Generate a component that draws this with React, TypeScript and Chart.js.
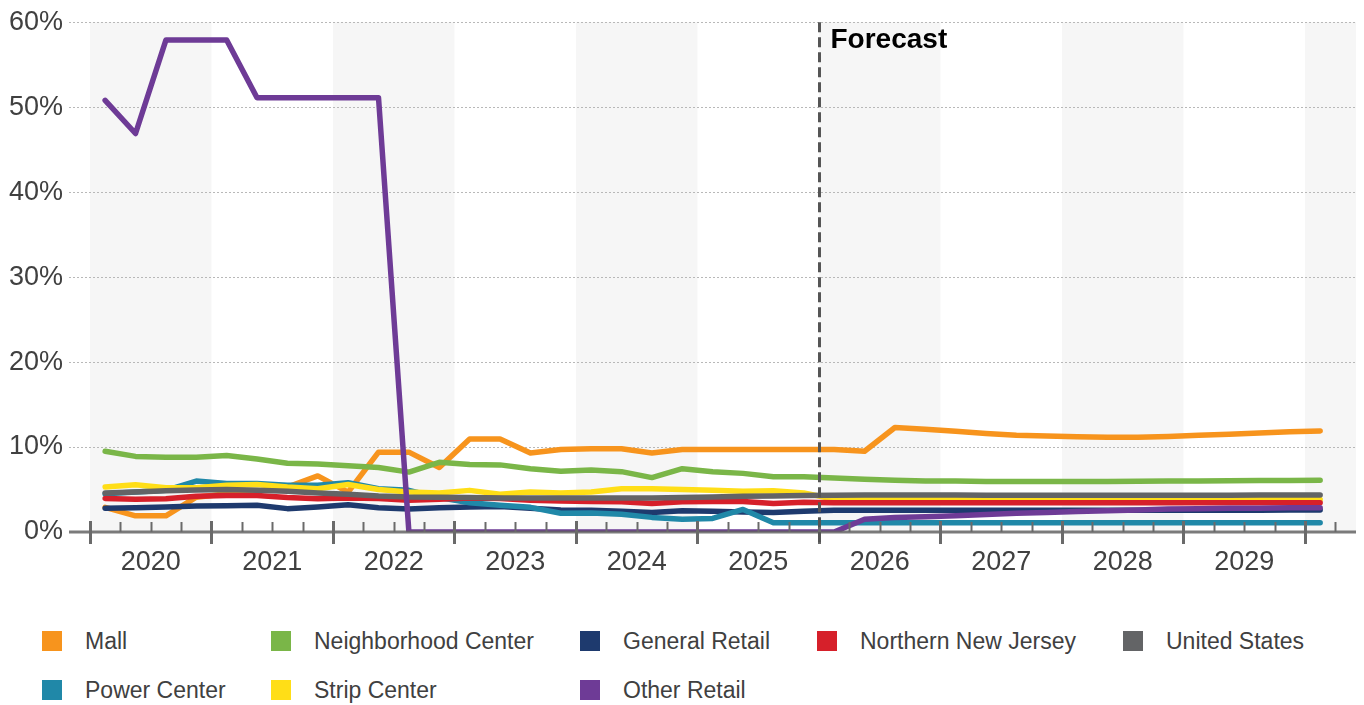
import React, { useEffect, useRef } from 'react';
import { Chart, registerables } from 'chart.js';

Chart.register(...registerables);

const FONT = "'Liberation Sans', Arial, Helvetica, sans-serif";
const TEXT_COLOR = '#404040';

// Years on the x axis (quarterly data, 2020 Q1 .. 2030 Q1)
const YEARS = ['2020', '2021', '2022', '2023', '2024', '2025', '2026', '2027', '2028', '2029'];
const Y_TICKS = [0, 10, 20, 30, 40, 50, 60];
const FORECAST_START_QUARTER = 24; // start of 2026
const SHADED_START_QUARTERS = [0, 8, 16, 24, 32, 40];

// Vacancy (%) per quarter, 41 points each
const MALL = [
  2.9, 1.9, 1.9, 4.1, 4.5, 4.8, 5.3, 6.6, 4.7, 9.4,
  9.4, 7.6, 10.95, 10.95, 9.3, 9.7, 9.8, 9.8, 9.3, 9.7,
  9.7, 9.7, 9.7, 9.7, 9.7, 9.5, 12.3, 12.1, 11.85, 11.6,
  11.4, 11.3, 11.2, 11.15, 11.15, 11.25, 11.4, 11.5, 11.65, 11.8,
  11.9,
];
const NEIGHBORHOOD = [
  9.5, 8.9, 8.8, 8.8, 9.0, 8.6, 8.1, 8.0, 7.8, 7.6,
  7.05, 8.2, 7.95, 7.9, 7.45, 7.15, 7.3, 7.1, 6.4, 7.45,
  7.1, 6.9, 6.5, 6.5, 6.35, 6.2, 6.1, 6.0, 6.0, 5.95,
  5.95, 5.95, 5.95, 5.95, 5.97, 6.0, 6.0, 6.02, 6.05, 6.05,
  6.08,
];
const GENERAL_RETAIL = [
  2.8, 2.85, 2.95, 3.05, 3.1, 3.15, 2.75, 2.95, 3.2, 2.85,
  2.7, 2.85, 2.95, 3.0, 2.8, 2.6, 2.55, 2.45, 2.3, 2.5,
  2.45, 2.35, 2.3, 2.45, 2.55, 2.55, 2.55, 2.55, 2.55, 2.55,
  2.55, 2.55, 2.55, 2.55, 2.55, 2.55, 2.55, 2.55, 2.55, 2.6,
  2.6,
];
const NORTHERN_NJ = [
  3.95, 3.85, 3.9, 4.2, 4.3, 4.3, 4.05, 3.9, 4.0, 3.95,
  3.75, 3.85, 4.0, 3.95, 3.75, 3.65, 3.6, 3.55, 3.35, 3.55,
  3.6, 3.6, 3.35, 3.5, 3.45, 3.43, 3.43, 3.43, 3.43, 3.43,
  3.43, 3.43, 3.43, 3.43, 3.43, 3.43, 3.43, 3.43, 3.43, 3.43,
  3.43,
];
const UNITED_STATES = [
  4.6, 4.7, 4.85, 4.95, 5.0, 4.9, 4.8, 4.6, 4.45, 4.25,
  4.13, 4.1, 4.05, 4.0, 4.0, 4.0, 4.0, 4.0, 4.0, 4.05,
  4.13, 4.2, 4.25, 4.3, 4.33, 4.35, 4.35, 4.35, 4.35, 4.33,
  4.33, 4.33, 4.33, 4.33, 4.33, 4.33, 4.33, 4.33, 4.35, 4.35,
  4.35,
];
const POWER_CENTER = [
  4.5, 4.7, 4.9, 6.0, 5.7, 5.7, 5.5, 5.5, 5.8, 5.1,
  4.9, 4.05, 3.45, 3.15, 2.9, 2.2, 2.25, 2.1, 1.72, 1.5,
  1.6, 2.65, 1.1, 1.1, 1.1, 1.1, 1.1, 1.1, 1.1, 1.1,
  1.1, 1.1, 1.1, 1.1, 1.1, 1.1, 1.1, 1.1, 1.1, 1.1,
  1.1,
];
const STRIP_CENTER = [
  5.3, 5.55, 5.2, 5.2, 5.5, 5.6, 5.3, 5.1, 5.6, 5.0,
  4.7, 4.6, 4.9, 4.45, 4.7, 4.6, 4.7, 5.1, 5.1, 5.0,
  4.9, 4.8, 4.85, 4.6, 3.85, 3.82, 3.82, 3.82, 3.82, 3.82,
  3.82, 3.82, 3.82, 3.82, 3.82, 3.82, 3.82, 3.82, 3.82, 3.82,
  3.82,
];
const OTHER_RETAIL = [
  50.8, 46.9, 57.9, 57.9, 57.9, 51.1, 51.1, 51.1, 51.1, 51.1,
  0, 0, 0, 0, 0, 0, 0, 0, 0, 0,
  0, 0, 0, 0, 0, 1.5, 1.7, 1.8, 1.9, 2.05,
  2.2, 2.3, 2.4, 2.5, 2.6, 2.7, 2.75, 2.8, 2.8, 2.85,
  2.85,
];

const SERIES = [
  { name: 'Mall', color: '#F7941D', data: MALL, order: 7 },
  { name: 'Neighborhood Center', color: '#7AB648', data: NEIGHBORHOOD, order: 6 },
  { name: 'General Retail', color: '#1E3A6E', data: GENERAL_RETAIL, order: 5 },
  { name: 'Northern New Jersey', color: '#D6202A', data: NORTHERN_NJ, order: 2 },
  { name: 'United States', color: '#636466', data: UNITED_STATES, order: 1 },
  { name: 'Power Center', color: '#2088A8', data: POWER_CENTER, order: 4 },
  { name: 'Strip Center', color: '#FFDE17', data: STRIP_CENTER, order: 3 },
  { name: 'Other Retail', color: '#6E3B96', data: OTHER_RETAIL, order: 0 },
];

// legend grid: [row, col]
const LEGEND_POS: Record<string, [number, number]> = {
  'Mall': [0, 0],
  'Neighborhood Center': [0, 1],
  'General Retail': [0, 2],
  'Northern New Jersey': [0, 3],
  'United States': [0, 4],
  'Power Center': [1, 0],
  'Strip Center': [1, 1],
  'Other Retail': [1, 2],
};
const LEGEND_COL_X = [42, 271, 580, 817, 1123];
const LEGEND_ROW_Y = [631, 680];

const X_MIN = -0.69;
const X_MAX = 41.68;

const decorPlugin = {
  id: 'decor',
  beforeDraw(chart: any) {
    const { ctx, chartArea, scales } = chart;
    const xs = scales.x;
    ctx.save();
    ctx.fillStyle = '#f6f6f6';
    for (const q of SHADED_START_QUARTERS) {
      const x0 = xs.getPixelForValue(q);
      const x1 = Math.min(xs.getPixelForValue(q + 4), chartArea.right);
      ctx.fillRect(x0, chartArea.top, x1 - x0, chartArea.bottom - chartArea.top);
    }
    ctx.restore();
  },
  afterDatasetsDraw(chart: any) {
    const { ctx, chartArea, scales } = chart;
    const xs = scales.x;
    const ys = scales.y;
    const y0 = ys.getPixelForValue(0);
    ctx.save();
    // axis line
    ctx.strokeStyle = 'rgba(100,100,100,0.85)';
    ctx.lineWidth = 3;
    ctx.beginPath();
    ctx.moveTo(chartArea.left, y0);
    ctx.lineTo(chartArea.right, y0);
    ctx.stroke();
    // ticks
    ctx.strokeStyle = '#6a6a6a';
    for (let q = 0; q <= Math.floor(X_MAX); q++) {
      const px = Math.round(xs.getPixelForValue(q)) + 0.5;
      ctx.beginPath();
      if (q % 4 === 0) {
        ctx.lineWidth = 3;
        ctx.moveTo(px, y0 - 11);
        ctx.lineTo(px, y0 + 12);
      } else {
        ctx.lineWidth = 2;
        ctx.moveTo(px, y0 - 10);
        ctx.lineTo(px, y0);
      }
      ctx.stroke();
    }
    // forecast line
    const fx = Math.round(xs.getPixelForValue(FORECAST_START_QUARTER)) + 0.5;
    ctx.strokeStyle = '#555555';
    ctx.lineWidth = 3;
    ctx.setLineDash([10, 5]);
    ctx.beginPath();
    ctx.moveTo(fx, chartArea.top);
    ctx.lineTo(fx, y0 + 12);
    ctx.stroke();
    ctx.setLineDash([]);
    ctx.fillStyle = '#000000';
    ctx.font = `bold 28px ${FONT}`;
    ctx.textAlign = 'left';
    ctx.textBaseline = 'alphabetic';
    ctx.fillText('Forecast', fx + 11, chartArea.top + 26);
    ctx.restore();
  },
};

export default function App() {
  const canvasRef = useRef<HTMLCanvasElement | null>(null);

  useEffect(() => {
    const canvas = canvasRef.current;
    if (!canvas) return;
    const chart = new Chart(canvas, {
      type: 'line',
      data: {
        datasets: SERIES.map((s) => ({
          label: s.name,
          data: s.data.map((v, i) => ({ x: i + 0.5, y: v })),
          borderColor: s.color,
          backgroundColor: s.color,
          borderWidth: 5.5,
          pointRadius: 0,
          pointHoverRadius: 0,
          tension: 0,
          fill: false,
          borderCapStyle: 'round',
          borderJoinStyle: 'round',
          order: s.order,
        })),
      },
      options: {
        responsive: false,
        animation: false,
        layout: { padding: { top: 19, right: 8, bottom: 8, left: 0 } },
        plugins: {
          legend: { display: false },
          tooltip: { enabled: false },
        },
        scales: {
          x: {
            type: 'linear',
            min: X_MIN,
            max: X_MAX,
            afterBuildTicks: (scale: any) => {
              scale.ticks = YEARS.map((_, k) => ({ value: k * 4 + 2 }));
            },
            afterFit: (scale: any) => {
              scale.height = 60;
            },
            ticks: {
              autoSkip: false,
              maxRotation: 0,
              minRotation: 0,
              padding: 14,
              color: TEXT_COLOR,
              font: { family: FONT, size: 27 },
              callback: (v: any) => YEARS[Math.round((Number(v) - 2) / 4)] ?? '',
            },
            grid: { display: false, drawTicks: false },
            border: { display: false },
          },
          y: {
            min: 0,
            max: 60,
            afterBuildTicks: (scale: any) => {
              scale.ticks = Y_TICKS.map((v) => ({ value: v }));
            },
            afterFit: (scale: any) => {
              scale.width = 69;
            },
            ticks: {
              padding: 6,
              color: TEXT_COLOR,
              font: { family: FONT, size: 27 },
              callback: (v: any) => `${v}%`,
            },
            grid: {
              drawTicks: false,
              lineWidth: 1,
              color: (ctx: any) => (ctx.tick && ctx.tick.value === 0 ? 'rgba(0,0,0,0)' : '#b8b8b8'),
            },
            border: { display: false, dash: [2, 2] },
          },
        },
      } as any,
      plugins: [decorPlugin],
    });
    return () => chart.destroy();
  }, []);

  return (
    <div style={{ position: 'absolute', left: 0, top: 0, width: 1364, height: 705, background: '#fff', fontFamily: FONT }}>
      <canvas ref={canvasRef} width={1364} height={600} style={{ display: 'block', width: 1364, height: 600 }} />
      {SERIES.map((s) => {
        const [row, col] = LEGEND_POS[s.name];
        return (
          <div
            key={s.name}
            style={{
              position: 'absolute',
              left: LEGEND_COL_X[col],
              top: LEGEND_ROW_Y[row],
              height: 20,
              display: 'flex',
              alignItems: 'center',
              whiteSpace: 'nowrap',
            }}
          >
            <span style={{ display: 'inline-block', width: 20, height: 20, background: s.color }} />
            <span style={{ marginLeft: 23, fontSize: 23, color: TEXT_COLOR, lineHeight: '20px' }}>{s.name}</span>
          </div>
        );
      })}
    </div>
  );
}
